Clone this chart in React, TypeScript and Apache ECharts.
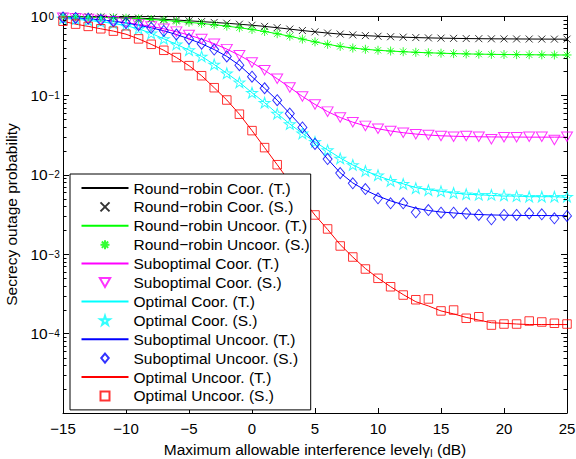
import React, { useEffect, useRef } from "react";
import * as echarts from "echarts";

const xValues = [-15, -14, -13, -12, -11, -10, -9, -8, -7, -6, -5, -4, -3, -2, -1, 0, 1, 2, 3, 4, 5, 6, 7, 8, 9, 10, 11, 12, 13, 14, 15, 16, 17, 18, 19, 20, 21, 22, 23, 24, 25];

// Round-robin Coor.
const rrCoorT = [0.99, 0.985, 0.98, 0.972, 0.963, 0.952, 0.94, 0.925, 0.908, 0.89, 0.87, 0.85, 0.83, 0.81, 0.788, 0.765, 0.74, 0.712, 0.684, 0.656, 0.632, 0.61, 0.592, 0.578, 0.566, 0.556, 0.548, 0.541, 0.535, 0.53, 0.526, 0.523, 0.52, 0.518, 0.516, 0.515, 0.514, 0.513, 0.512, 0.511, 0.511];
const rrCoorS = [0.99, 0.985, 0.98, 0.972, 0.963, 0.952, 0.94, 0.925, 0.908, 0.89, 0.87, 0.85, 0.83, 0.81, 0.788, 0.765, 0.74, 0.712, 0.684, 0.656, 0.632, 0.61, 0.592, 0.578, 0.566, 0.556, 0.548, 0.541, 0.535, 0.53, 0.526, 0.523, 0.52, 0.518, 0.516, 0.515, 0.514, 0.513, 0.512, 0.511, 0.511];
// Round-robin Uncoor.
const rrUncoorT = [0.98, 0.975, 0.968, 0.96, 0.95, 0.938, 0.922, 0.903, 0.882, 0.858, 0.832, 0.805, 0.776, 0.745, 0.712, 0.676, 0.638, 0.598, 0.556, 0.512, 0.472, 0.44, 0.414, 0.395, 0.381, 0.37, 0.362, 0.355, 0.349, 0.344, 0.34, 0.336, 0.333, 0.331, 0.329, 0.327, 0.326, 0.325, 0.324, 0.323, 0.323];
const rrUncoorS = [0.98, 0.975, 0.968, 0.96, 0.95, 0.938, 0.922, 0.903, 0.882, 0.858, 0.832, 0.805, 0.776, 0.745, 0.712, 0.676, 0.638, 0.598, 0.556, 0.512, 0.472, 0.44, 0.414, 0.395, 0.381, 0.37, 0.362, 0.355, 0.349, 0.344, 0.34, 0.336, 0.333, 0.331, 0.329, 0.327, 0.326, 0.325, 0.324, 0.323, 0.323];
// Suboptimal Coor.
const subCoorT = [0.95, 0.935, 0.915, 0.89, 0.86, 0.825, 0.785, 0.74, 0.69, 0.635, 0.575, 0.512, 0.448, 0.383, 0.32, 0.26, 0.207, 0.162, 0.126, 0.097, 0.077, 0.0625, 0.0527, 0.046, 0.0413, 0.038, 0.0356, 0.0339, 0.0326, 0.0317, 0.031, 0.0306, 0.0303, 0.0301, 0.03, 0.0299, 0.0299, 0.0298, 0.0298, 0.0298, 0.0298];
const subCoorS = [0.95, 0.935, 0.915, 0.89, 0.86, 0.825, 0.785, 0.74, 0.69, 0.635, 0.575, 0.512, 0.448, 0.383, 0.32, 0.26, 0.207, 0.162, 0.126, 0.097, 0.077, 0.0625, 0.0527, 0.046, 0.0413, 0.038, 0.0356, 0.0339, 0.0324, 0.0317, 0.0308, 0.0302, 0.0308, 0.0302, 0.028, 0.0297, 0.0297, 0.0302, 0.0302, 0.0274, 0.0302];
// Optimal Coor.
const optCoorT = [0.93, 0.91, 0.88, 0.845, 0.805, 0.755, 0.69, 0.605, 0.515, 0.44, 0.372, 0.31, 0.245, 0.19, 0.146, 0.108, 0.081, 0.059, 0.0436, 0.0333, 0.026, 0.0205, 0.0163, 0.0133, 0.0112, 0.0097, 0.0085, 0.0077, 0.0069, 0.0065, 0.0062, 0.0059, 0.0057, 0.0056, 0.0055, 0.0054, 0.0054, 0.0053, 0.0053, 0.0053, 0.0052];
const optCoorS = [0.93, 0.91, 0.88, 0.845, 0.805, 0.755, 0.69, 0.605, 0.515, 0.44, 0.372, 0.31, 0.245, 0.19, 0.146, 0.108, 0.081, 0.059, 0.0436, 0.0333, 0.026, 0.0205, 0.0161, 0.0133, 0.0112, 0.0099, 0.0084, 0.0077, 0.0068, 0.0064, 0.0062, 0.0059, 0.0057, 0.0056, 0.0056, 0.0055, 0.0054, 0.0053, 0.0053, 0.0053, 0.0053];
// Suboptimal Uncoor.
const subUncoorT = [0.96, 0.945, 0.925, 0.895, 0.86, 0.815, 0.765, 0.71, 0.65, 0.585, 0.515, 0.448, 0.378, 0.31, 0.24, 0.172, 0.123, 0.087, 0.059, 0.0395, 0.0245, 0.0158, 0.0106, 0.0079, 0.0064, 0.0054, 0.0047, 0.0042, 0.0038, 0.00355, 0.0034, 0.00331, 0.00321, 0.00316, 0.00312, 0.0031, 0.00308, 0.00307, 0.00307, 0.00306, 0.00306];
const subUncoorS = [0.96, 0.945, 0.925, 0.895, 0.86, 0.815, 0.765, 0.71, 0.65, 0.585, 0.515, 0.448, 0.378, 0.31, 0.24, 0.172, 0.123, 0.087, 0.059, 0.0395, 0.0245, 0.0158, 0.0105, 0.00782, 0.00662, 0.00506, 0.00438, 0.00438, 0.00337, 0.0036, 0.00333, 0.00333, 0.00327, 0.00312, 0.00275, 0.00312, 0.00312, 0.00327, 0.00318, 0.00283, 0.00303];
// Optimal Uncoor.
const optUncoorT = [0.86, 0.79, 0.74, 0.69, 0.645, 0.59, 0.515, 0.44, 0.37, 0.3, 0.237, 0.177, 0.125, 0.0875, 0.058, 0.036, 0.022, 0.0134, 0.0081, 0.005, 0.0031, 0.00205, 0.00132, 0.00092, 0.00066, 0.0005, 0.00039, 0.00031, 0.000252, 0.000223, 0.000193, 0.000177, 0.00016, 0.000148, 0.000137, 0.000135, 0.000132, 0.00013, 0.00013, 0.00013, 0.00013];
const optUncoorS = [0.86, 0.79, 0.74, 0.69, 0.645, 0.59, 0.515, 0.44, 0.37, 0.3, 0.237, 0.177, 0.125, 0.0875, 0.058, 0.036, 0.022, 0.0134, 0.0081, 0.005, 0.00312, 0.00208, 0.00127, 0.000922, 0.000651, 0.000497, 0.000389, 0.000306, 0.000267, 0.000273, 0.000193, 0.000198, 0.000156, 0.000163, 0.000128, 0.000132, 0.000132, 0.000144, 0.00014, 0.000135, 0.000132];

const legendNames = [
  "Round−robin Coor. (T.)",
  "Round−robin Coor. (S.)",
  "Round−robin Uncoor. (T.)",
  "Round−robin Uncoor. (S.)",
  "Suboptimal Coor. (T.)",
  "Suboptimal Coor. (S.)",
  "Optimal Coor. (T.)",
  "Optimal Coor. (S.)",
  "Suboptimal Uncoor. (T.)",
  "Suboptimal Uncoor. (S.)",
  "Optimal Uncoor. (T.)",
  "Optimal Uncoor. (S.)",
];

const X_MIN = -15;
const X_MAX = 25;
const Y_MIN = 1e-5;
const Y_MAX = 1;

const FONT = "'Liberation Sans', Arial, Helvetica, sans-serif";
const FS = 15.5;
const TICK_FS = 15;

const CROSS = "path://M0,0L10,10M10,0L0,10";
const ASTERISK = "path://M5,0L5,10M0,5L10,5M1.5,1.5L8.5,8.5M8.5,1.5L1.5,8.5";
const TRI_DOWN = "path://M0,0L10,0L5,8.66Z";
const STAR = "path://M5,0L6.12,3.46L9.76,3.45L6.81,5.59L7.94,9.05L5,6.9L2.06,9.05L3.19,5.59L0.24,3.45L3.88,3.46Z";
const DIAMOND = "path://M5,0L10,6L5,12L0,6Z";
const SQUARE = "path://M0,0L10,0L10,10L0,10Z";

const groups = [
  { t: legendNames[0], s: legendNames[1], color: "#000000", theory: rrCoorT, sim: rrCoorS, symbol: CROSS, size: [7, 7] },
  { t: legendNames[2], s: legendNames[3], color: "#00ff00", theory: rrUncoorT, sim: rrUncoorS, symbol: ASTERISK, size: [9, 9] },
  { t: legendNames[4], s: legendNames[5], color: "#ff00ff", theory: subCoorT, sim: subCoorS, symbol: TRI_DOWN, size: [11, 9.5] },
  { t: legendNames[6], s: legendNames[7], color: "#00ffff", theory: optCoorT, sim: optCoorS, symbol: STAR, size: [11, 10.5] },
  { t: legendNames[8], s: legendNames[9], color: "#0000ff", theory: subUncoorT, sim: subUncoorS, symbol: DIAMOND, size: [9, 11] },
  { t: legendNames[10], s: legendNames[11], color: "#ff0000", theory: optUncoorT, sim: optUncoorS, symbol: SQUARE, size: [8.5, 8.5] },
];

// minor tick positions of the log axis (2..9 in each decade)
const minorTicks: number[] = [];
for (let e = -5; e < 0; e++) {
  for (let m = 2; m <= 9; m++) minorTicks.push(m * Math.pow(10, e));
}

function fmtX(v: number) {
  return String(v).replace("-", "−");
}
function expOf(v: number) {
  return Math.round(Math.log10(v));
}
function fmtBase(v: number) {
  return expOf(v) <= -5 ? "" : "10";
}
function fmtExp(v: number) {
  const e = expOf(v);
  if (e <= -5) return "";
  return e === 0 ? "0" : "−" + String(-e);
}

export default function App() {
  const ref = useRef<HTMLDivElement>(null);
  useEffect(() => {
    document.body.style.margin = "0";
    const chart = echarts.init(ref.current!, null, { renderer: "svg" });
    const series: any[] = [];
    groups.forEach((g) => {
      series.push({
        name: g.t,
        type: "line",
        symbol: "none",
        lineStyle: { color: g.color, width: 1 },
        itemStyle: { color: g.color },
        data: xValues.map((x, i) => [x, g.theory[i]]),
        silent: true,
        z: 2,
      });
    });
    groups.forEach((g) => {
      series.push({
        name: g.s,
        type: "scatter",
        symbol: g.symbol,
        symbolSize: g.size,
        itemStyle: { color: "rgba(0,0,0,0)", borderColor: g.color, borderWidth: 1 },
        data: xValues.map((x, i) => [x, g.sim[i]]),
        silent: true,
        z: 3,
      });
    });
    series.push({
      type: "custom",
      silent: true,
      z: 5,
      data: minorTicks.map((v) => [X_MIN, v]),
      renderItem: (params: any, api: any) => {
        const cs = params.coordSys;
        const pt = api.coord([api.value(0), api.value(1)]);
        const y = Math.round(pt[1]) + 0.5;
        return {
          type: "group",
          children: [
            { type: "line", shape: { x1: cs.x, y1: y, x2: cs.x + 3.5, y2: y }, style: { stroke: "#000", lineWidth: 1 } },
            { type: "line", shape: { x1: cs.x + cs.width - 3.5, y1: y, x2: cs.x + cs.width, y2: y }, style: { stroke: "#000", lineWidth: 1 } },
          ],
        };
      },
    });

    const legendData = legendNames.map((n, i) =>
      i % 2 === 0
        ? { name: n, itemStyle: { color: "rgba(0,0,0,0)", borderColor: "rgba(0,0,0,0)", borderWidth: 0 } }
        : { name: n }
    );

    const axisLine = { show: true, onZero: false, lineStyle: { color: "#000", width: 1 } };
    chart.setOption({
      animation: false,
      backgroundColor: "#ffffff",
      textStyle: { fontFamily: FONT, color: "#000" },
      grid: { left: 63, top: 16, width: 504, height: 397, containLabel: false, outerBoundsMode: "none" },
      legend: {
        data: legendData,
        orient: "vertical",
        left: 70,
        top: 174,
        itemWidth: 47,
        itemHeight: 9,
        itemGap: 2.9,
        padding: [6, 1, 6, 10.5],
        backgroundColor: "#ffffff",
        borderColor: "#000000",
        borderWidth: 1,
        borderRadius: 0,
        selectedMode: false,
        textStyle: { fontFamily: FONT, fontSize: FS, color: "#000", lineHeight: FS },
      },
      xAxis: [
        {
          type: "value",
          position: "bottom",
          min: X_MIN,
          max: X_MAX,
          interval: 5,
          axisLine,
          axisTick: { show: true, inside: true, length: 5, lineStyle: { color: "#000" } },
          splitLine: { show: false },
          axisLabel: { formatter: fmtX, fontSize: TICK_FS, color: "#000", margin: 8, fontFamily: FONT },
          name: "{a|Maximum allowable interference level}{g|γ}{s|I}{a| (dB)}",
          nameLocation: "middle",
          nameGap: 24,
          nameTextStyle: {
            fontFamily: FONT,
            color: "#000",
            rich: {
              a: { fontSize: FS, lineHeight: FS, fontFamily: FONT, color: "#000" },
              g: { fontSize: FS, lineHeight: FS, fontFamily: FONT, color: "#000" },
              s: { fontSize: 10, lineHeight: 10, padding: [8, 0, 0, 0], fontFamily: FONT, color: "#000" },
            },
          },
        },
        {
          type: "value",
          position: "top",
          min: X_MIN,
          max: X_MAX,
          interval: 5,
          axisLine,
          axisTick: { show: true, inside: true, length: 5, lineStyle: { color: "#000" } },
          splitLine: { show: false },
          axisLabel: { show: false },
        },
      ],
      yAxis: [
        {
          type: "log",
          logBase: 10,
          position: "left",
          min: Y_MIN,
          max: Y_MAX,
          splitNumber: 5,
          axisLine,
          axisTick: { show: true, inside: true, length: 6, lineStyle: { color: "#000" } },
          splitLine: { show: false },
          axisLabel: {
            formatter: fmtBase,
            align: "left",
            verticalAlign: "middle",
            margin: 32.5,
            fontFamily: FONT,
            fontSize: 15.5,
            color: "#000",
          },
          name: "Secrecy outage probability",
          nameLocation: "middle",
          nameGap: 42,
          nameTextStyle: { fontFamily: FONT, fontSize: FS, color: "#000" },
        },
        {
          type: "log",
          logBase: 10,
          position: "right",
          min: Y_MIN,
          max: Y_MAX,
          splitNumber: 5,
          axisLine,
          axisTick: { show: true, inside: true, length: 6, lineStyle: { color: "#000" } },
          splitLine: { show: false },
          axisLabel: { show: false },
        },
        {
          type: "log",
          logBase: 10,
          position: "left",
          offset: 0,
          min: Y_MIN,
          max: Y_MAX,
          splitNumber: 5,
          axisLine: { show: false, onZero: false },
          axisTick: { show: false },
          splitLine: { show: false },
          axisLabel: {
            formatter: fmtExp,
            align: "left",
            verticalAlign: "middle",
            padding: [0, 0, 16, 0],
            lineHeight: 10,
            margin: 14.5,
            fontFamily: FONT,
            fontSize: 10,
            color: "#000",
          },
        },
      ],
      series,
    });
    return () => chart.dispose();
  }, []);
  return (
    <div
      ref={ref}
      style={{ position: "absolute", left: 0, top: 0, width: 576, height: 459, background: "#fff" }}
    />
  );
}
